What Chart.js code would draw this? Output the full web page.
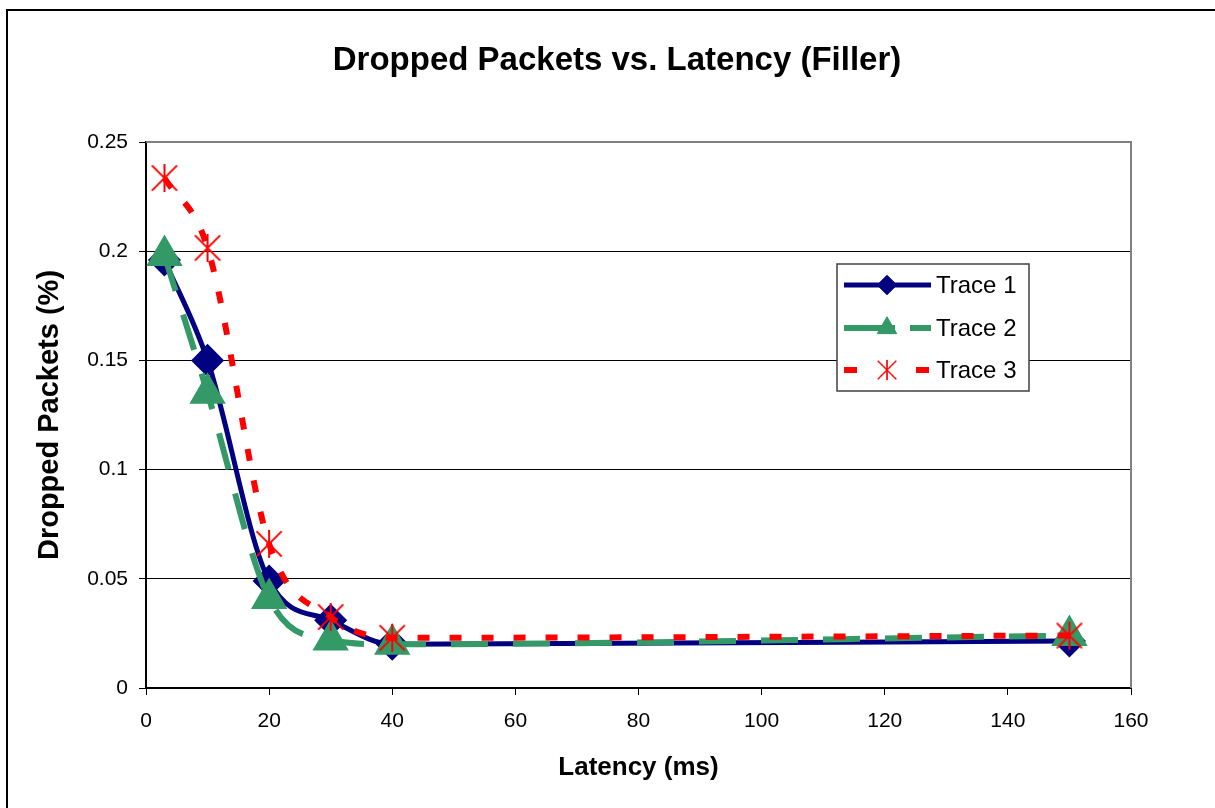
<!DOCTYPE html>
<html>
<head>
<meta charset="utf-8">
<title>Dropped Packets vs. Latency (Filler)</title>
<script src="https://cdn.jsdelivr.net/npm/chart.js@4.4.0/dist/chart.umd.min.js"></script>
<style>
    html, body { margin: 0; padding: 0; background: #fff; }
    canvas { display: block; }
</style>
</head>
<body>
<canvas id="chart" width="1215" height="808"></canvas>
<script>
// Data
const latency = [3, 10, 20, 30, 40, 150];
const trace1 = [0.196, 0.150, 0.049, 0.031, 0.020, 0.0215];
const trace2 = [0.198, 0.135, 0.041, 0.022, 0.020, 0.024];
const trace3 = [0.2335, 0.2015, 0.066, 0.0325, 0.023, 0.024];
const seriesNames = ['Trace 1', 'Trace 2', 'Trace 3'];
const xTicks = [0, 20, 40, 60, 80, 100, 120, 140, 160];
const yTicks = [0, 0.05, 0.1, 0.15, 0.2, 0.25];
const chartTitle = 'Dropped Packets vs. Latency (Filler)';

const FONT = 'Arial, "Liberation Sans", sans-serif';

/**
 * Excel style asterisk marker: an X with a vertical stroke
 */
function makeAsterisk(size, color) {
    const c = document.createElement('canvas');
    c.width = size;
    c.height = size;
    const g = c.getContext('2d');
    const m = size / 2;
    const r = size / 2 - 1;
    g.strokeStyle = color;
    g.lineWidth = 2;
    g.beginPath();
    g.moveTo(m - r * 0.9, m - r * 0.9); g.lineTo(m + r * 0.9, m + r * 0.9);
    g.moveTo(m + r * 0.9, m - r * 0.9); g.lineTo(m - r * 0.9, m + r * 0.9);
    g.moveTo(m, m - r); g.lineTo(m, m + r);
    g.stroke();
    return c;
}
const asterisk = makeAsterisk(30, '#ff0000');

function toPoints(ys) {
    return latency.map((x, i) => ({ x: x, y: ys[i] }));
}

/**
 * Page frame, title, plot border on top / right
 */
const framePlugin = {
    id: 'frame',
    beforeDraw(chart) {
        const ctx = chart.ctx;
        ctx.save();
        ctx.fillStyle = '#fff';
        ctx.fillRect(0, 0, chart.width, chart.height);
        ctx.strokeStyle = '#000';
        ctx.lineWidth = 2;
        ctx.strokeRect(7, 10, chart.width + 20, chart.height + 20);

        ctx.fillStyle = '#000';
        ctx.font = 'bold 33px ' + FONT;
        ctx.textAlign = 'center';
        ctx.textBaseline = 'middle';
        ctx.fillText(chartTitle, 617, 61);
        ctx.restore();
    },
    beforeDatasetsDraw(chart) {
        const { ctx, chartArea: a } = chart;
        ctx.save();
        ctx.strokeStyle = '#808080';
        ctx.lineWidth = 2;
        ctx.beginPath();
        ctx.moveTo(a.left, a.top);
        ctx.lineTo(a.right, a.top);
        ctx.lineTo(a.right, a.bottom);
        ctx.stroke();
        ctx.restore();
    }
};

/**
 * Legend box placed inside the plot, like the original
 */
const boxLegendPlugin = {
    id: 'boxLegend',
    afterDraw(chart) {
        const ctx = chart.ctx;
        const box = { x: 837, y: 264, w: 192, h: 127 };
        ctx.save();
        ctx.fillStyle = '#fff';
        ctx.fillRect(box.x, box.y, box.w, box.h);
        ctx.strokeStyle = '#404040';
        ctx.lineWidth = 1.5;
        ctx.strokeRect(box.x, box.y, box.w, box.h);

        const rows = [285, 328, 370];
        chart.data.datasets.forEach((ds, i) => {
            const y = rows[i];
            ctx.save();
            ctx.strokeStyle = ds.borderColor;
            ctx.lineWidth = ds.borderWidth;
            ctx.setLineDash(ds.legendDash || []);
            ctx.beginPath();
            ctx.moveTo(844, y);
            ctx.lineTo(931, y);
            ctx.stroke();
            ctx.restore();

            const cx = 887;
            if (ds.pointStyle instanceof HTMLCanvasElement) {
                const s = 22;
                ctx.drawImage(ds.pointStyle, cx - s / 2, y - s / 2, s, s);
            } else if (Chart.helpers && Chart.helpers.drawPoint) {
                ctx.fillStyle = ds.pointBackgroundColor;
                ctx.strokeStyle = ds.pointBorderColor;
                ctx.lineWidth = 1;
                Chart.helpers.drawPoint(ctx, {
                    pointStyle: ds.pointStyle,
                    radius: ds.pointRadius * 0.75,
                    rotation: 0,
                    borderWidth: 1
                }, cx, y);
            }

            ctx.fillStyle = '#000';
            ctx.font = '24px ' + FONT;
            ctx.textAlign = 'left';
            ctx.textBaseline = 'middle';
            ctx.fillText(seriesNames[i], 936, y + 1);
        });
        ctx.restore();
    }
};

new Chart(document.getElementById('chart'), {
    type: 'line',
    data: {
        datasets: [{
            label: seriesNames[0],
            data: toPoints(trace1),
            borderColor: '#000080',
            borderWidth: 5,
            pointStyle: 'rectRot',
            pointRadius: 13,
            pointBackgroundColor: '#000080',
            pointBorderColor: '#000080',
            cubicInterpolationMode: 'monotone',
            order: 3
        }, {
            label: seriesNames[1],
            data: toPoints(trace2),
            borderColor: '#339966',
            borderWidth: 6,
            borderDash: [37, 25],
            legendDash: [51, 15],
            pointStyle: 'triangle',
            pointRadius: 15,
            pointBackgroundColor: '#339966',
            pointBorderColor: '#339966',
            cubicInterpolationMode: 'monotone',
            order: 2
        }, {
            label: seriesNames[2],
            data: toPoints(trace3),
            borderColor: '#ff0000',
            borderWidth: 6,
            borderDash: [12, 20],
            legendDash: [13, 59],
            pointStyle: asterisk,
            pointRadius: 14,
            cubicInterpolationMode: 'monotone',
            order: 1
        }]
    },
    options: {
        responsive: false,
        animation: false,
        events: [],
        layout: {
            padding: { left: 0, right: 84, top: 142, bottom: 0 }
        },
        plugins: {
            legend: { display: false },
            tooltip: { enabled: false },
            title: { display: false }
        },
        scales: {
            x: {
                type: 'linear',
                min: 0,
                max: 160,
                afterBuildTicks(scale) {
                    scale.ticks = xTicks.map(v => ({ value: v }));
                },
                afterFit(scale) {
                    scale.height = 120;
                },
                grid: {
                    drawOnChartArea: false,
                    drawTicks: true,
                    tickLength: 7,
                    tickColor: '#000',
                    color: '#000'
                },
                border: { color: '#000', width: 2 },
                ticks: {
                    color: '#000',
                    padding: 14,
                    maxRotation: 0,
                    font: { family: FONT, size: 21 }
                },
                title: {
                    display: true,
                    text: 'Latency (ms)',
                    color: '#000',
                    font: { family: FONT, size: 26, weight: 'bold' },
                    padding: { top: 0, bottom: 25 }
                }
            },
            y: {
                type: 'linear',
                min: 0,
                max: 0.25,
                afterBuildTicks(scale) {
                    scale.ticks = yTicks.map(v => ({ value: v }));
                },
                afterFit(scale) {
                    scale.width = 146;
                },
                grid: {
                    color: ctx => (ctx.tick && ctx.tick.value === 0.25) ? '#808080' : '#000',
                    lineWidth: 1,
                    drawTicks: true,
                    tickLength: 7,
                    tickColor: '#000'
                },
                border: { color: '#000', width: 2 },
                ticks: {
                    color: '#000',
                    padding: 11,
                    font: { family: FONT, size: 21 },
                    callback: v => String(v)
                },
                title: {
                    display: true,
                    text: 'Dropped Packets (%)',
                    color: '#000',
                    font: { family: FONT, size: 29, weight: 'bold' },
                    padding: { top: 33, bottom: 0 }
                }
            }
        }
    },
    plugins: [framePlugin, boxLegendPlugin]
});
</script>
</body>
</html>
